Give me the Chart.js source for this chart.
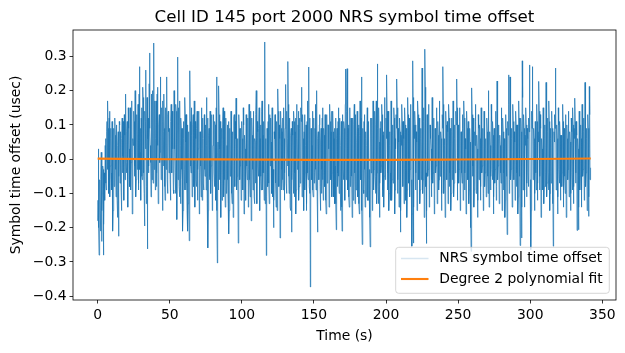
<!DOCTYPE html>
<html><head><meta charset="utf-8">
<script src="https://cdn.jsdelivr.net/npm/chart.js@4"></script>
<style>html,body{margin:0;padding:0;background:#fff}#wrap{width:625px;height:353px;position:relative}</style>
</head><body><div id="wrap"><canvas id="c" width="625" height="353"></canvas></div>
<script>
const chartTitle = "Cell ID 145 port 2000 NRS symbol time offset";
const xLabel = "Time (s)";
const yLabel = "Symbol time offset (usec)";
const seriesName = "NRS symbol time offset";
const fitName = "Degree 2 polynomial fit";
const sampleIntervalS = 0.25;

// NRS symbol time offset in nanoseconds.
// "a" arrays: samples at t = 0, 0.5, 1.0 ... ; "b" arrays: samples in between (t = 0.25, 0.75 ...)
const a000 = [-180,30,-280,-60,-210,20,-150,-20,-280,-40,-120,60,-90,110,170,-60,120,-110,90,-40,110,-210,60,-80,120,-30,100,-120,40,-225,110,-70,80,-150,120,10,-100,130,-60,190,-40,110,-140,90,-20,150,-90,120,-160,60,140,-50,200,-110,80,-30,160,-70,270,20,-120,150,-60,180,-40,-195,110,260,-80,-262,120,-20,310,40,-110,190,60,-70,339,30,-90,170,-40,210,-130,100,-10,240,-60,150,-150,80,190,-80,120,-30,240,-100,140,-40];
const b000 = [-120,-200,-90,-150,-60,-240,-100,-30,-190,-80,40,-70,80,-30,90,-100,140,-20,60,-90,30,-150,90,-40,70,-110,20,-170,80,-50,100,-20,-90,60,-40,110,-120,70,130,-10,80,-60,150,30,-80,120,-10,170,-100,40,110,-20,160,-60,130,50,-90,190,-30,90,120,-50,210,0,-100,140,30,-130,180,60,-40,220,90,-10,150,-60,200,110,-30,170,60,-80,190,40,-100,130,20,180,-50,110,170,-20,90,-120,150,40,-60,130,80,-10];
const a050 = [90,-120,160,-40,120,-90,200,30,-100,140,-176,298,40,-80,170,-130,90,-60,-210,110,-30,180,-90,130,-150,-210,80,-238,258,-20,150,-110,100,-50,170,-140,60,-80,140,-30,120,-160,80,-20,150,-120,60,-90,130,-50,90,180,-130,-259,70,-60,140,-100,110,-150,40,130,-80,100,-120,240,-303,50,214,-60,110,-170,90,-40,150,-110,60,-140,120,-20,100,-130,-218,90,-50,140,-100,80,-170,120,-30,110,178,-90,60,-245,130,-60,90,-120];
const b050 = [-60,110,-20,140,30,-100,90,-40,160,20,80,-60,150,-110,40,120,-30,90,-150,60,-90,130,50,-70,100,-130,20,-160,110,-40,70,-20,130,-80,40,110,-60,90,-120,30,140,-40,80,-110,30,120,-70,60,-30,100,-90,40,120,-150,90,-50,70,-20,130,-100,60,-40,110,-80,150,-150,20,-90,130,30,-80,60,-120,100,-30,140,-60,80,-100,40,-60,110,-150,50,-20,90,-130,70,-40,130,-80,60,120,-50,30,-140,90,-20,60,-70];
const a100 = [110,-40,150,-160,70,-90,130,-20,100,-140,160,-60,90,-180,120,-30,140,-110,60,-70,200,-130,80,-50,150,-150,100,-90,170,-40,110,-120,342,-60,-281,90,-80,160,-130,70,120,-40,150,-110,-200,80,130,-70,60,-150,205,-20,100,-230,140,-90,80,-60,150,-120,90,218,-100,60,285,-50,120,-140,70,-213,110,-40,140,-110,80,-160,160,-30,100,-120,120,-70,150,210,-90,60,-150,130,-40,100,-130,170,-60,269,-100,-373,90,-60,140,-110];
const b100 = [60,-90,100,-40,30,-120,80,-60,120,-30,90,-110,140,-40,70,-90,100,-130,50,130,-80,110,-20,90,-110,60,-50,140,-90,70,-40,160,-130,60,-110,40,110,-70,130,-20,50,-100,90,-30,-120,60,100,-140,110,-60,140,-80,60,-150,90,-30,120,-90,60,-40,130,-70,140,-20,160,-100,50,-150,90,-60,70,-100,110,-40,120,-90,60,-20,140,-80,90,-40,110,-110,130,-60,80,-90,40,-150,110,-40,140,-80,120,-160,-60,40,-90,80];
const a150 = [120,-40,160,-90,200,-213,80,-60,130,-150,90,-30,150,-120,70,-80,110,-160,130,-50,100,-140,160,-20,80,-110,140,-70,60,-130,120,-206,90,-40,150,-100,70,-150,110,-210,130,-60,90,-120,263,-30,264,-90,100,-140,150,-50,80,-170,120,-80,160,-130,70,-40,140,-110,100,-160,170,-60,240,-249,90,-100,130,-140,60,-70,150,-120,110,-30,-256,120,80,-150,170,-90,130,-50,100,-130,278,-80,150,-170,90,-40,160,-110,70,-140,180,-60];
const b150 = [-70,90,-30,140,-110,60,-40,100,-80,50,-100,120,-60,90,-30,130,-120,60,-70,100,30,-90,110,-60,140,-40,80,-110,90,-20,-130,60,-80,110,-50,120,-90,40,-140,70,-30,110,-100,160,-60,140,-20,90,-110,60,-80,120,-50,80,-120,100,-40,130,-90,50,-60,90,-130,70,-20,120,-150,60,-90,110,-30,80,-110,40,-120,100,-60,-170,60,-40,120,-90,60,-30,140,-100,170,-40,90,-130,50,-70,110,-20,130,-90,80,-50,100,-30];
const a200 = [120,246,-90,140,-150,80,-40,170,-120,100,-70,150,-160,60,130,234,-100,90,-140,120,-213,70,160,-50,110,-130,150,-80,90,-170,180,-40,120,-110,160,-60,-254,287,-245,100,140,-90,80,-150,170,-30,120,-130,90,-60,266,-100,150,-170,321,-80,-246,130,-50,160,-140,100,60,-110,180,-70,120,-160,90,-40,150,-130,110,-90,170,-50,80,-150,130,270,-100,60,-170,140,-30,110,-130,160,-80,90,-150,120,-60,170,-110,100,-40,140,234,-120];
const b200 = [60,140,-40,90,-100,40,-120,110,-60,70,-30,120,-90,30,90,150,-60,50,-100,80,-150,40,110,-80,60,-40,100,-120,50,-90,130,-70,80,-30,120,-100,-160,180,-140,60,100,-40,50,-100,130,-60,80,-90,60,-20,160,-60,110,-130,210,-40,-150,90,-30,120,-90,60,30,-60,130,-40,90,-120,60,-20,110,-80,70,-60,120,-20,60,-100,90,160,-60,40,-120,100,-60,80,-80,120,-40,60,-100,80,-30,130,-70,60,-20,100,150,-70];
const a250 = [100,-70,150,-150,80,-40,130,-120,170,-90,60,-160,140,-30,110,-130,90,-200,-269,208,-50,120,-140,80,160,-100,70,-170,130,-60,100,-120,150,-40,90,-150,140,-80,60,-110,120,-50,200,-140,80,-90,160,-30,110,-160,90,-70,140,-120,228,-60,100,-130,70,-40,150,-150,120,-90,60,-170,130,-50,-220,110,246,-100,240,-60,90,-140,160,-30,80,-120,140,-80,100,-160,170,-50,-252,120,-230,287,-90,130,-140,70,150,-110,90,-40,120,275];
const b250 = [60,-30,110,-90,40,-70,90,-60,120,-40,30,-110,90,-60,70,-90,50,-140,-150,130,-20,80,-90,40,110,-60,30,-120,90,-30,60,-80,110,-20,50,-100,90,-40,30,-70,80,-100,140,-90,40,-50,110,-60,70,-110,50,-30,100,-80,150,-20,60,-90,40,-70,110,-100,80,-40,30,-120,90,-30,-140,70,160,-60,150,-30,60,-90,110,-60,50,-80,100,-40,60,-110,120,-20,-160,80,-140,180,-40,90,-90,40,100,-70,60,-80,80,160];
const a300 = [-100,-264,140,270,-60,90,-150,110,-40,160,-120,80,227,-90,130,-170,60,-50,150,-130,100,-80,224,-110,120,-40,170,-150,90,-70,140,-130,-254,80,130,266,-90,100,-160,150,-30,110,-120,70,-80,160,-140,90,-50,130,-170,100,-60,140,-110,80,-150,120,-40,150,-130,90,178,-70,110,-208,60,-206,140,-90,100,-140,160,-50,120,-120,224,-80,90,-150,130,-167,212,-60,-25];
const b300 = [-60,-150,90,170,-20,60,-100,70,-90,110,-70,50,140,-50,90,-110,30,-90,100,-80,60,-40,150,-70,80,-90,110,-100,60,-30,90,-80,-160,50,90,170,-50,60,-110,100,-70,70,-80,40,-40,110,-90,60,-100,90,-110,60,-30,90,-70,50,-100,80,-90,100,-80,60,110,-40,70,-130,30,-140,90,-50,60,-90,110,-30,80,-70,150,-40,60,-100,90,-110,130,-30];

// Degree 2 polynomial fit
const fitTimeS = [0, 50, 100, 150, 200, 250, 300, 342];
const fitOffsetUs = [0.0015, 0.0, -0.001, -0.002, -0.002, -0.001, 0.0005, 0.002];

const xTicks = [0, 50, 100, 150, 200, 250, 300, 350];
const yTicks = [-0.4, -0.3, -0.2, -0.1, 0.0, 0.1, 0.2, 0.3];

const chunks = [[a000, b000], [a050, b050], [a100, b100], [a150, b150], [a200, b200], [a250, b250], [a300, b300]];
const allNs = [];
chunks.forEach(([a, b]) => { a.forEach((v, i) => { allNs.push(v); if (i < b.length) allNs.push(b[i]); }); });
const seriesPts = allNs.map((v, i) => ({x: i * sampleIntervalS, y: v / 1000}));
const fitPts = fitTimeS.map((t, i) => ({x: t, y: fitOffsetUs[i]}));

const FONT = 'DejaVu Sans';
const BLUE = '#1f77b4', ORANGE = '#ff7f0e';

const decor = {
  id: 'decor',
  afterDraw(chart) {
    const ctx = chart.ctx, a = chart.chartArea;
    ctx.save();
    ctx.strokeStyle = '#000'; ctx.lineWidth = 0.8;
    ctx.strokeRect(a.left, a.top, a.right - a.left, a.bottom - a.top);
    ctx.fillStyle = '#000';
    ctx.textAlign = 'center'; ctx.textBaseline = 'alphabetic';
    ctx.font = '16.7px "' + FONT + '"';
    ctx.fillText(chartTitle, (a.left + a.right) / 2, 22);
    ctx.font = '13.9px "' + FONT + '"';
    ctx.fillText(xLabel, (a.left + a.right) / 2, 340);
    ctx.save();
    ctx.translate(20, (a.top + a.bottom) / 2);
    ctx.rotate(-Math.PI / 2);
    ctx.fillText(yLabel, 0, 0);
    ctx.restore();
    // legend
    const bx = 395.7, by = 247.3, bw = 213.6, bh = 46;
    ctx.beginPath();
    if (ctx.roundRect) ctx.roundRect(bx, by, bw, bh, 3); else ctx.rect(bx, by, bw, bh);
    ctx.fillStyle = 'rgba(255,255,255,0.8)'; ctx.fill();
    ctx.strokeStyle = '#cccccc'; ctx.lineWidth = 0.8; ctx.stroke();
    const rows = [{y: 258.5, c: 'rgba(31,119,180,0.18)', w: 1.5, t: seriesName}, {y: 279, c: ORANGE, w: 2.1, t: fitName}];
    rows.forEach(r => {
      ctx.beginPath(); ctx.strokeStyle = r.c; ctx.lineWidth = r.w;
      ctx.moveTo(401, r.y); ctx.lineTo(428.5, r.y); ctx.stroke();
      ctx.fillStyle = '#000'; ctx.textAlign = 'left'; ctx.textBaseline = 'middle';
      ctx.fillText(r.t, 439.3, r.y);
    });
    ctx.restore();
  }
};

const tickStyle = {color: '#000', font: {family: FONT, size: 13.9}, autoSkip: false, maxRotation: 0};
new Chart(document.getElementById('c'), {
  type: 'line',
  data: {datasets: [
    {label: seriesName, data: seriesPts, borderColor: BLUE, borderWidth: 0.75, pointRadius: 0, tension: 0, order: 2},
    {label: fitName, data: fitPts, borderColor: ORANGE, borderWidth: 2.1, pointRadius: 0, tension: 0.4, cubicInterpolationMode: 'monotone', order: 1}
  ]},
  options: {
    responsive: false, animation: false, events: [],
    layout: {padding: {top: 30, right: 9, left: 0, bottom: 0}},
    plugins: {legend: {display: false}, title: {display: false}, tooltip: {enabled: false}},
    scales: {
      x: {type: 'linear', min: -17.1, max: 359.5,
        afterBuildTicks: s => { s.ticks = xTicks.map(v => ({value: v})); },
        afterFit: s => { s.height = 53; },
        grid: {drawOnChartArea: false, drawTicks: true, tickLength: 3.5, tickWidth: 0.8, tickColor: '#000'},
        border: {display: false},
        ticks: Object.assign({padding: 4, callback: v => String(v)}, tickStyle)},
      y: {type: 'linear', min: -0.411, max: 0.377,
        afterBuildTicks: s => { s.ticks = yTicks.map(v => ({value: v})); },
        afterFit: s => { s.width = 73; },
        grid: {drawOnChartArea: false, drawTicks: true, tickLength: 3.5, tickWidth: 0.8, tickColor: '#000'},
        border: {display: false},
        ticks: Object.assign({padding: 3, callback: v => (v < -1e-9 ? '\u2212' + Math.abs(v).toFixed(1) : Math.abs(v).toFixed(1))}, tickStyle)}
    }
  },
  plugins: [decor]
});
</script></body></html>
